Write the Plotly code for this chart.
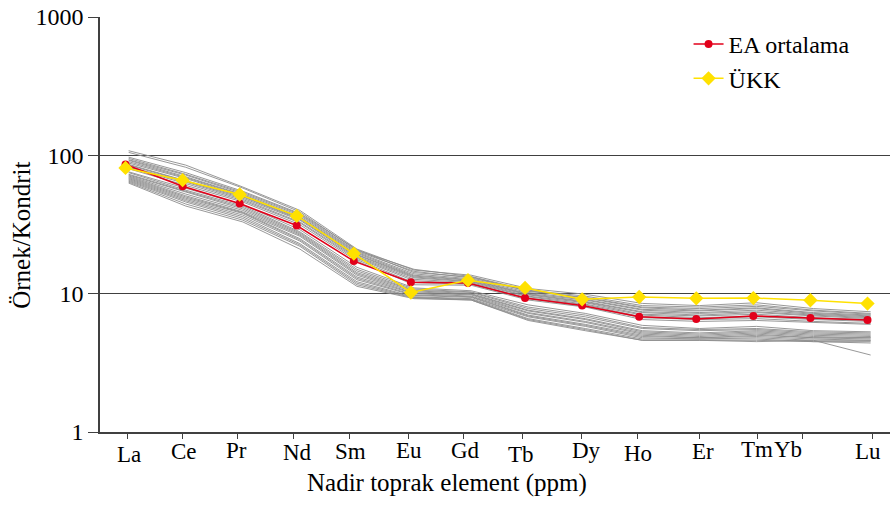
import numpy as np
import plotly.graph_objects as go

# Rare earth elements, chondrite-normalised
elements = ["La", "Ce", "Pr", "Nd", "Sm", "Eu", "Gd", "Tb", "Dy", "Ho", "Er", "Tm", "Yb", "Lu"]

ea_mean = [85.8, 59.8, 44.8, 31.1, 17.2, 12.1, 11.95, 9.3, 8.2, 6.8, 6.56, 6.9, 6.67, 6.45]
ukk = [81.1, 66.1, 52.1, 36.5, 19.5, 10.2, 12.5, 11.0, 9.1, 9.46, 9.26, 9.3, 8.96, 8.48]

# individual samples
s01 = [108, 85, 59, 40, 21.0, 14.8, 13.6, 10.9, 9.9, 8.5, 8.2, 8.6, 7.8, 7.4]
s02 = [105, 82, 58, 39, 20.5, 15.0, 13.3, 10.6, 9.6, 8.2, 8.0, 8.3, 7.6, 7.2]
s03 = [97, 75, 55, 38, 20.8, 14.2, 13.2, 10.4, 9.4, 8.0, 7.8, 8.1, 7.5, 7.1]
s04 = [95, 73, 54, 37.5, 20.2, 14.5, 13.0, 10.5, 9.3, 7.9, 7.6, 7.9, 7.3, 7.0]
s05 = [93, 72, 53, 36.8, 19.9, 13.9, 12.8, 10.2, 9.1, 7.7, 7.5, 7.8, 7.2, 6.9]
s06 = [92, 70, 52, 36, 19.6, 13.6, 12.6, 10.0, 9.0, 7.6, 7.3, 7.6, 7.1, 6.8]
s07 = [90, 69, 51.5, 35.5, 19.2, 13.4, 12.5, 9.9, 8.8, 7.4, 7.2, 7.4, 7.0, 6.7]
s08 = [88, 68, 50.5, 35, 19.0, 13.2, 12.3, 9.8, 8.7, 7.3, 7.0, 7.3, 6.9, 6.6]
s09 = [86, 66, 50, 34.5, 18.6, 13.0, 12.2, 9.6, 8.6, 7.1, 6.9, 7.1, 6.7, 6.5]
s10 = [85, 65, 49, 34, 18.3, 12.7, 12.0, 9.5, 8.4, 7.0, 6.7, 6.9, 6.6, 6.4]
s11 = [83, 64, 48, 33, 18.0, 12.4, 11.8, 9.3, 8.3, 6.8, 6.6, 6.8, 6.5, 6.3]
s12 = [82, 62.5, 47, 32.5, 17.6, 12.0, 11.7, 9.2, 8.1, 6.7, 6.5, 6.6, 6.3, 6.1]
s13 = [80, 61, 46, 31.5, 17.2, 11.6, 11.5, 9.0, 8.0, 6.5, 6.3, 6.4, 6.2, 6.0]
s14 = [76, 58, 44, 29, 15.5, 11.0, 10.5, 8.3, 7.2, 5.9, 5.6, 5.8, 5.4, 5.3]
s15 = [75, 56, 43, 28, 15.0, 10.8, 10.3, 8.0, 7.0, 5.7, 5.5, 5.6, 5.3, 5.2]
s16 = [73, 55, 42, 27.5, 14.6, 10.6, 10.2, 7.8, 6.8, 5.6, 5.4, 5.5, 5.2, 5.1]
s17 = [72, 54, 41, 27, 14.2, 10.5, 10.0, 7.6, 6.6, 5.4, 5.2, 5.4, 5.1, 5.0]
s18 = [71, 52.5, 40, 26.5, 13.9, 10.3, 9.9, 7.5, 6.5, 5.3, 5.1, 5.3, 5.0, 4.9]
s19 = [70, 51, 39, 26, 13.6, 10.1, 9.8, 7.3, 6.3, 5.2, 5.0, 5.2, 4.9, 4.8]
s20 = [69, 50, 38.5, 25, 13.2, 10.0, 9.6, 7.2, 6.2, 5.1, 4.9, 5.1, 4.8, 4.8]
s21 = [68, 49, 38, 24.5, 12.9, 9.8, 9.5, 7.0, 6.0, 5.0, 4.8, 5.0, 4.8, 4.7]
s22 = [67, 48, 37, 24, 12.6, 9.7, 9.4, 6.9, 5.9, 4.9, 4.8, 4.9, 4.7, 4.6]
s23 = [66, 47, 36, 23, 12.2, 9.5, 9.2, 6.8, 5.8, 4.8, 4.7, 4.8, 4.6, 4.6]
s24 = [65, 46, 35, 22.5, 11.9, 9.4, 9.1, 6.6, 5.6, 4.7, 4.7, 4.7, 4.5, 4.5]
s25 = [64, 44.5, 34, 22, 11.6, 9.3, 9.0, 6.5, 5.5, 4.6, 4.6, 4.6, 4.5, 4.4]
s26 = [63, 43, 33, 21, 11.3, 9.2, 9.0, 6.4, 5.4, 4.6, 4.6, 4.5, 4.6, 3.6]
samples = [s01, s02, s03, s04, s05, s06, s07, s08, s09, s10, s11, s12, s13,
           s14, s15, s16, s17, s18, s19, s20, s21, s22, s23, s24, s25, s26]

y_ticks = [1, 10, 100, 1000]

# layout helpers (axis units: element index)
tick_pos = [0.03, 1.00, 1.97, 2.95, 3.92, 4.96, 5.92, 6.96, 7.99, 8.97, 10.05, 11.08, 11.86, 13.08]
label_pos = [0.06, 1.03, 1.94, 3.02, 3.94, 4.96, 5.96, 6.93, 8.07, 8.98, 10.12, 11.06, 11.60, 13.01]
label_dy = [3.3, 0, -0.7, 0.7, 0, -0.7, -0.7, 2.7, -0.7, 1.7, 0, -2, -2, 0]

SERIF = "Liberation Serif"
x = np.arange(len(elements))

fig = go.Figure()
for s in samples:
    fig.add_trace(go.Scatter(
        x=x + 0.055, y=s, mode="lines",
        line=dict(color="#8c8c8c", width=0.9), showlegend=False, hoverinfo="skip"))

fig.add_trace(go.Scatter(
    x=x, y=ea_mean, mode="lines+markers", name="EA ortalama",
    line=dict(color="#e2001a", width=1.5),
    marker=dict(symbol="circle", size=8, color="#e2001a")))
fig.add_trace(go.Scatter(
    x=x, y=ukk, mode="lines+markers", name="ÜKK",
    line=dict(color="#ffe100", width=1.5),
    marker=dict(symbol="diamond", size=11, color="#ffe100")))

annotations = []
for name, px, dy in zip(elements, label_pos, label_dy):
    annotations.append(dict(
        x=px, y=0, xref="x", yref="paper", text=name, showarrow=False,
        xanchor="center", yanchor="top", yshift=-5 - dy,
        font=dict(family=SERIF, size=23, color="black")))

annotations.append(dict(
    x=0.439, y=0, xref="paper", yref="paper", text="Nadir toprak element (ppm)",
    showarrow=False, xanchor="center", yanchor="top", yshift=-35,
    font=dict(family=SERIF, size=25, color="black")))
annotations.append(dict(
    x=-0.0994, y=0.474, xref="paper", yref="paper", text="Örnek/Kondrit",
    showarrow=False, textangle=-90, xanchor="center", yanchor="middle",
    font=dict(family=SERIF, size=25, color="black")))

fig.update_layout(
    width=892, height=506,
    margin=dict(l=100, r=2, t=17, b=74),
    paper_bgcolor="white", plot_bgcolor="white",
    font=dict(family=SERIF, color="black"),
    showlegend=True,
    legend=dict(x=0.745, y=0.988, xanchor="left", yanchor="top",
                bgcolor="rgba(0,0,0,0)", tracegroupgap=0,
                font=dict(family=SERIF, size=24, color="black")),
    annotations=annotations,
    xaxis=dict(range=[-0.447, 13.394], tickvals=tick_pos, showticklabels=False,
               ticks="outside", ticklen=5, tickcolor="#404040", tickwidth=1,
               showline=True, linecolor="#404040", linewidth=1.5,
               showgrid=False, zeroline=False),
    yaxis=dict(type="log", range=[0, 3], tickvals=y_ticks,
               ticktext=[str(v) for v in y_ticks],
               ticks="outside", ticklen=10, tickcolor="#404040", tickwidth=1,
               showline=True, linecolor="#404040", linewidth=1.5,
               showgrid=True, gridcolor="#404040", gridwidth=1,
               zeroline=False,
               tickfont=dict(family=SERIF, size=24, color="black")),
)

fig.write_html("out.html")
